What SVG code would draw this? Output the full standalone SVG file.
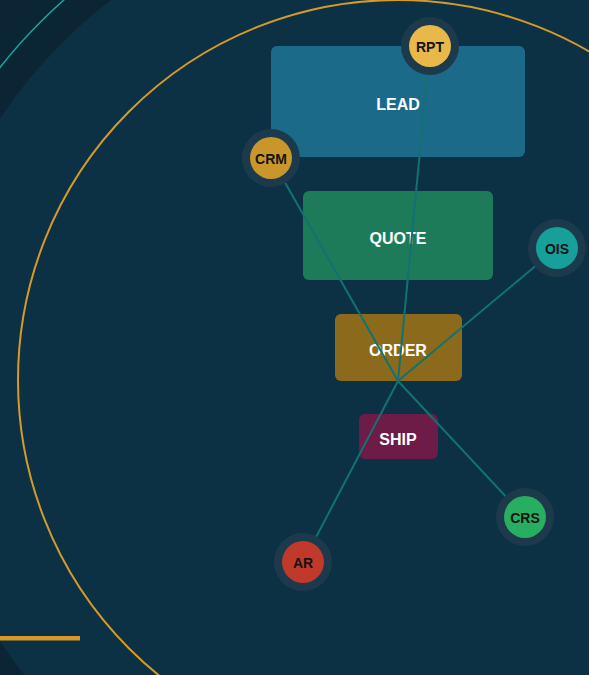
<svg xmlns="http://www.w3.org/2000/svg" width="589" height="675" viewBox="0 0 589 675">
<style>
.box text{font-family:"Liberation Sans",Arial,sans-serif;font-weight:bold;font-size:16px;fill:#ffffff;text-anchor:middle}
.sat .halo{fill:#1c3a4c}
.sat text{font-family:"Liberation Sans",Arial,sans-serif;font-weight:bold;font-size:14px;fill:#141414;text-anchor:middle}
.conn line{stroke:#127272;stroke-width:2}
</style>
<rect width="589" height="675" fill="#0b2535"/>
<circle cx="398" cy="380" r="476" fill="#0d3144"/>
<circle cx="398" cy="380" r="506" fill="none" stroke="#1aa3a0" stroke-width="1.5"/>
<circle cx="398" cy="380" r="380" fill="none" stroke="#d49a2a" stroke-width="2"/>
<rect x="0" y="636" width="80" height="4.5" fill="#d69a2a"/>
<g id="lead" class="box"><rect x="271" y="46" width="254" height="111" rx="6" fill="#1b6a8a"/><text x="398" y="109.7">LEAD</text></g>
<g id="quote" class="box"><rect x="303" y="191" width="190" height="89" rx="6" fill="#1e7b5a"/><text x="398" y="244">QUOTE</text></g>
<g id="order" class="box"><rect x="335" y="314" width="127" height="67" rx="6" fill="#8c6a1c"/><text x="398" y="356">ORDER</text></g>
<g id="ship" class="box"><rect x="359" y="414" width="79" height="45" rx="6" fill="#6d1b47"/><text x="398" y="445">SHIP</text></g>
<g id="connectors" class="conn">
<line x1="398" y1="381" x2="430" y2="46"/>
<line x1="398" y1="381" x2="271" y2="158"/>
<line x1="398" y1="381" x2="557" y2="248"/>
<line x1="398" y1="381" x2="525" y2="517"/>
<line x1="398" y1="381" x2="303" y2="562"/>
</g>
<g id="rpt" class="sat"><circle class="halo" cx="430" cy="46" r="29"/><circle cx="430" cy="46" r="21" fill="#e8b84a"/><text x="430" y="52">RPT</text></g>
<g id="crm" class="sat"><circle class="halo" cx="271" cy="158" r="29"/><circle cx="271" cy="158" r="21" fill="#c8962a"/><text x="271" y="164">CRM</text></g>
<g id="ois" class="sat"><circle class="halo" cx="557" cy="248" r="29"/><circle cx="557" cy="248" r="21" fill="#17a09a"/><text x="557" y="254">OIS</text></g>
<g id="crs" class="sat"><circle class="halo" cx="525" cy="517" r="29"/><circle cx="525" cy="517" r="21" fill="#27ae60"/><text x="525" y="523">CRS</text></g>
<g id="ar" class="sat"><circle class="halo" cx="303" cy="562" r="29"/><circle cx="303" cy="562" r="21" fill="#c0392b"/><text x="303" y="568">AR</text></g>
</svg>
